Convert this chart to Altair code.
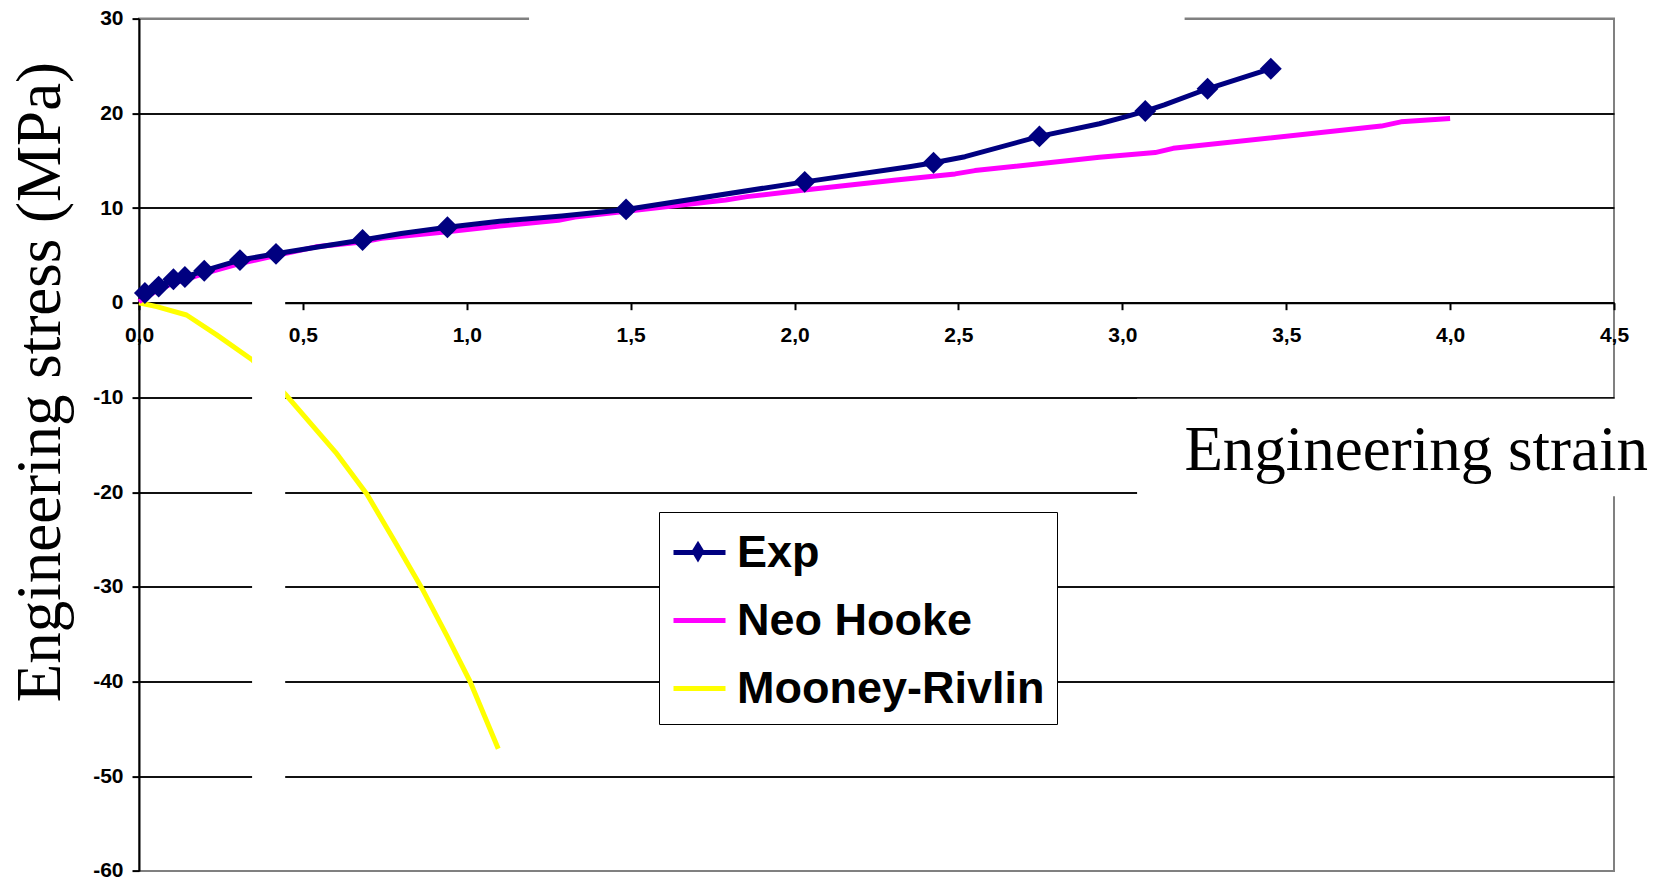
import altair as alt
import pandas as pd

# ---- data -----------------------------------------------------------------
series_names = ["Exp", "Neo Hooke", "Mooney-Rivlin"]
series_colors = ["#000080", "#FF00FF", "#FFFF00"]

# experimental curve; exp_marked flags the measured points drawn with a diamond
exp_strain = [0.018, 0.06, 0.105, 0.14, 0.199, 0.308, 0.418, 0.55, 0.682, 0.80,
              0.941, 1.10, 1.29, 1.486, 2.031, 2.35, 2.424, 2.52, 2.747, 2.93,
              3.006, 3.07, 3.128, 3.26, 3.453]
exp_stress = [1.03, 1.70, 2.48, 2.71, 3.38, 4.50, 5.16, 5.9, 6.62, 7.3,
              7.96, 8.6, 9.16, 9.85, 12.76, 14.36, 14.77, 15.42, 17.56, 18.9,
              19.6, 20.24, 20.88, 22.59, 24.71]
exp_marked = [1, 1, 1, 1, 1, 1, 1, 0, 1, 0,
              1, 0, 0, 1, 1, 0, 1, 0, 1, 0,
              0, 1, 0, 1, 1]

neo_strain = [0.0, 0.05, 0.1, 0.2, 0.31, 0.42, 0.54, 0.68, 0.74, 0.94, 1.1, 1.28,
              1.33, 1.5, 1.79, 1.855, 2.03, 2.31, 2.49, 2.55, 2.93, 3.10, 3.155,
              3.79, 3.85, 4.0]
neo_stress = [0.1, 1.2, 2.0, 3.1, 4.15, 5.0, 5.9, 6.4, 6.8, 7.5, 8.1, 8.7,
              9.05, 9.7, 10.85, 11.2, 11.9, 12.95, 13.6, 13.95, 15.35, 15.85, 16.3,
              18.65, 19.1, 19.45]

mr_strain = [0.0, 0.054, 0.145, 0.237, 0.346, 0.445, 0.6, 0.695, 0.78, 0.867,
             0.94, 1.01, 1.096]
mr_stress = [0.0, -0.42, -1.3, -3.4, -6.05, -9.6, -15.8, -20.2, -25.2, -30.4,
             -35.2, -40.0, -47.1]

strain_ticks = [0.0, 0.5, 1.0, 1.5, 2.0, 2.5, 3.0, 3.5, 4.0, 4.5]
stress_ticks = [-60, -50, -40, -30, -20, -10, 0, 10, 20, 30]

x_title = "Engineering strain"
y_title = "Engineering stress (MPa)"

# white cut-outs laid over the frame (strain / stress extents)
mask_strain = [0.345, 3.045, 1.19]
mask_strain2 = [0.446, 4.70, 3.19]
mask_stress = [0.8, -10.15, 30.6]
mask_stress2 = [-53.7, -20.45, 29.4]

# ---- tables -----------------------------------------------------------------
curves = pd.concat([
    pd.DataFrame({"series": "Mooney-Rivlin", "strain": mr_strain, "stress": mr_stress}),
    pd.DataFrame({"series": "Neo Hooke", "strain": neo_strain, "stress": neo_stress}),
    pd.DataFrame({"series": "Exp", "strain": exp_strain, "stress": exp_stress}),
], ignore_index=True)

exp_points = pd.DataFrame({"strain": exp_strain, "stress": exp_stress, "marked": exp_marked})
exp_points = exp_points[exp_points["marked"] == 1].assign(marker=series_names[0])

masks = pd.DataFrame({"strain": mask_strain, "strain2": mask_strain2,
                      "stress": mask_stress, "stress2": mask_stress2})

# ---- layout -------------------------------------------------------------------
W, H = 1475, 852.3
PAD = {"left": 139, "top": 18.6, "right": 44, "bottom": 11.1}

xscale = alt.Scale(domain=[0, 4.5], nice=False, zero=False)
yscale = alt.Scale(domain=[-60, 30], nice=False, zero=False)

label_font = "Liberation Sans"
title_font = "Liberation Serif"
TICK_FONT = 21
LINE_WIDTH = 5

x_axis = alt.Axis(
    values=strain_ticks, title=None, grid=False,
    offset=-(H * 2 / 3),
    labelExpr="replace(format(datum.value, '.1f'), '.', ',')",
    labelFont=label_font, labelFontWeight="bold", labelFontSize=TICK_FONT, labelColor="black",
    labelFlush=False, labelOverlap=False, labelPadding=15,
    domainColor="black", domainWidth=2,
    tickColor="black", tickWidth=2, tickSize=7,
)

y_axis = alt.Axis(
    values=stress_ticks, title=y_title,
    labelExpr="'' + datum.value",
    labelFont=label_font, labelFontWeight="bold", labelFontSize=TICK_FONT, labelColor="black",
    labelFlush=False, labelOverlap=False, labelPadding=9,
    domainColor="black", domainWidth=2,
    tickColor="black", tickWidth=2, tickSize=7,
    grid=True, gridWidth=2,
    gridColor={"condition": {"test": "datum.value === 30 || datum.value === -60",
                             "value": "#808080"}, "value": "#111111"},
    titleFont=title_font, titleFontSize=63, titleFontWeight="normal", titleColor="black",
    titleAngle=270, titleAlign="center", titleBaseline="alphabetic",
    titleX=-80, titleY=363,
)

# legend: line swatches for every series, plus a diamond legend laid over the Exp swatch
line_symbol = "M-1,0L1,0"
diamond_symbol = "M-0.6,0L0,-1L0.6,0L0,1Z"
MARKER_SIZE = 480

legend = alt.Legend(
    title=None, orient="none", legendX=520, legendY=493.4,
    fillColor="white", strokeColor="black", padding=12,
    labelFont=label_font, labelFontWeight="bold", labelFontSize=45, labelColor="black",
    labelOffset=9, labelLimit=600, rowPadding=16,
    symbolType=line_symbol, symbolSize=2704, symbolStrokeWidth=LINE_WIDTH,
)

marker_legend = alt.Legend(
    title=None, orient="none", legendX=548, legendY=522, padding=0,
    symbolType=diamond_symbol, symbolFillColor=series_colors[0],
    symbolStrokeColor=series_colors[0], symbolStrokeWidth=0, symbolOpacity=1,
    labelColor="transparent", labelFontSize=1, labelOffset=0,
)

lines = alt.Chart(curves).mark_line(strokeWidth=LINE_WIDTH, strokeJoin="round").encode(
    x=alt.X("strain:Q", scale=xscale, axis=x_axis),
    y=alt.Y("stress:Q", scale=yscale, axis=y_axis),
    color=alt.Color("series:N",
                    scale=alt.Scale(domain=series_names, range=series_colors),
                    legend=legend),
)

markers = alt.Chart(exp_points).mark_point(
    shape="diamond", filled=True, opacity=1, color=series_colors[0]
).encode(
    x=alt.X("strain:Q", scale=xscale),
    y=alt.Y("stress:Q", scale=yscale),
    size=alt.Size("marker:N",
                  scale=alt.Scale(type="ordinal", domain=[series_names[0]], range=[MARKER_SIZE]),
                  legend=marker_legend),
)

cutouts = alt.Chart(masks).mark_rect(color="white", opacity=1).encode(
    x=alt.X("strain:Q", scale=xscale),
    x2="strain2:Q",
    y=alt.Y("stress:Q", scale=yscale),
    y2="stress2:Q",
)

x_label = alt.Chart(pd.DataFrame({"label": [x_title]})).mark_text(
    font=title_font, fontSize=63, color="black", align="right", baseline="alphabetic"
).encode(
    text="label:N",
    x=alt.value(1509),
    y=alt.value(451.4),
)

chart = alt.layer(lines, markers, cutouts, x_label).properties(
    width=W, height=H,
    autosize=alt.AutoSizeParams(type="none"),
    padding=PAD,
    background="white",
).configure_view(stroke="#808080", strokeWidth=2)

chart.save("out.html", embed_options={"renderer": "svg", "actions": False})
